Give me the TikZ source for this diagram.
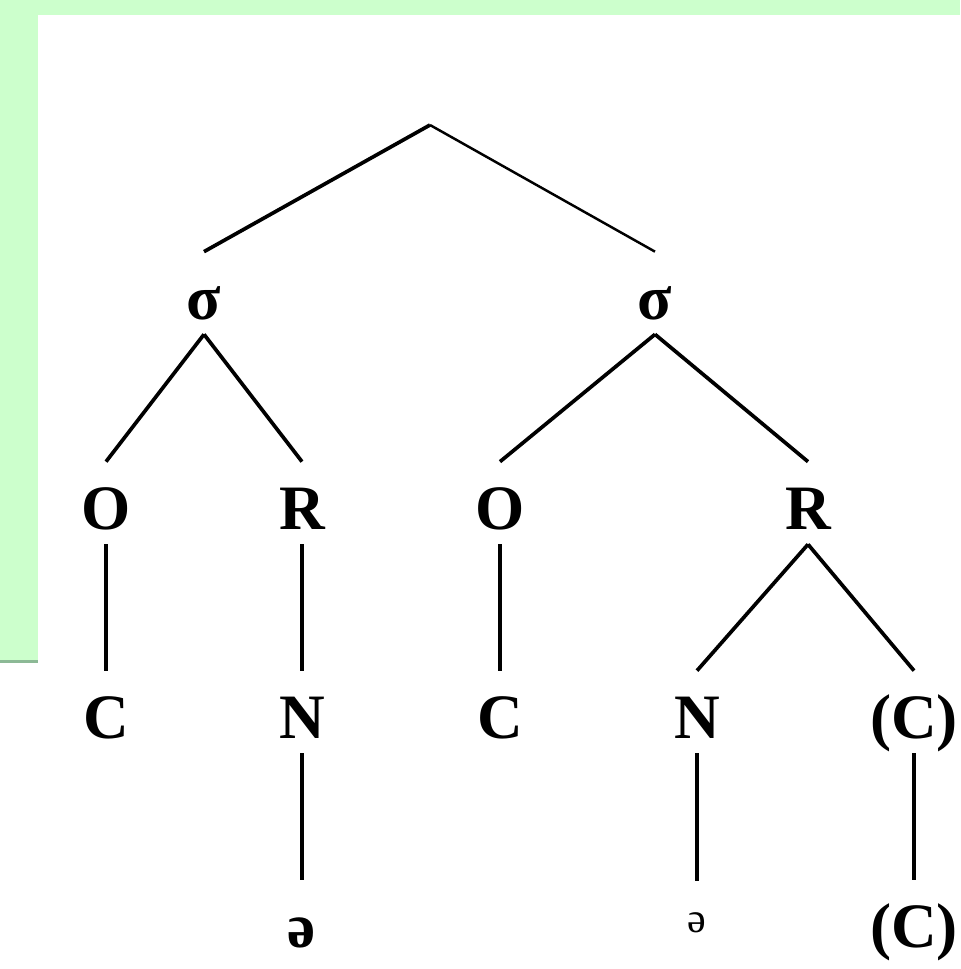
\documentclass[tikz,border=0pt]{standalone}
\usepackage{fontspec}
\setmainfont{Liberation Serif}
\definecolor{slidegreen}{RGB}{204,255,204}
\definecolor{slideedge}{RGB}{140,185,150}
\tikzset{
  seg/.style={inner sep=0pt, anchor=base, text height=1.34cm, text depth=0.3cm,
    font=\fontsize{36}{40}\selectfont\bfseries},
  segsmall/.style={inner sep=0pt, anchor=base, text height=1.02cm, text depth=0.3cm,
    font=\fontsize{24}{28}\selectfont},
  branch/.style={line width=2.1pt}
}
\begin{document}
\begin{tikzpicture}[x=0.02cm,y=-0.02cm]
\useasboundingbox (0,0) rectangle (960,969);
\fill[slidegreen] (0,0) rectangle (960,663);
\draw[slideedge,line width=2pt] (0,661.5) -- (38,661.5);
\fill[white] (38,15) rectangle (960,969);
%\draw[step=50,gray,very thin] (0,0) grid (960,969);
\coordinate (top) at (430,125);
\node[seg] (s1) at (204,319) {σ};
\node[seg] (s2) at (655,319) {σ};
\node[seg] (o1) at (106,529) {O};
\node[seg] (r1) at (302,529) {R};
\node[seg] (o2) at (500,529) {O};
\node[seg] (r2) at (808,529) {R};
\node[seg] (c1) at (106,738) {C};
\node[seg] (n1) at (302,738) {N};
\node[seg] (c2) at (500,738) {C};
\node[seg] (n2) at (697,738) {N};
\node[seg] (c3) at (914,738) {(C)};
\node[seg] (v1) at (302,947) {ə};
\node[segsmall] (v2) at (697,932) {ə};
\node[seg] (c4) at (914,947) {(C)};
\draw[branch] (top) -- (s1.north);
\draw[branch,line width=1.4pt] (top) -- (s2.north);
\draw[branch] (s1.south) -- (o1.north);
\draw[branch] (s1.south) -- (r1.north);
\draw[branch] (s2.south) -- (o2.north);
\draw[branch] (s2.south) -- (r2.north);
\draw[branch] (r2.south) -- (n2.north);
\draw[branch] (r2.south) -- (c3.north);
\draw[branch] (o1.south) -- (c1.north);
\draw[branch] (r1.south) -- (n1.north);
\draw[branch] (o2.south) -- (c2.north);
\draw[branch] (n1.south) -- (v1.north);
\draw[branch] (n2.south) -- (v2.north);
\draw[branch] (c3.south) -- (c4.north);
\end{tikzpicture}
\end{document}
